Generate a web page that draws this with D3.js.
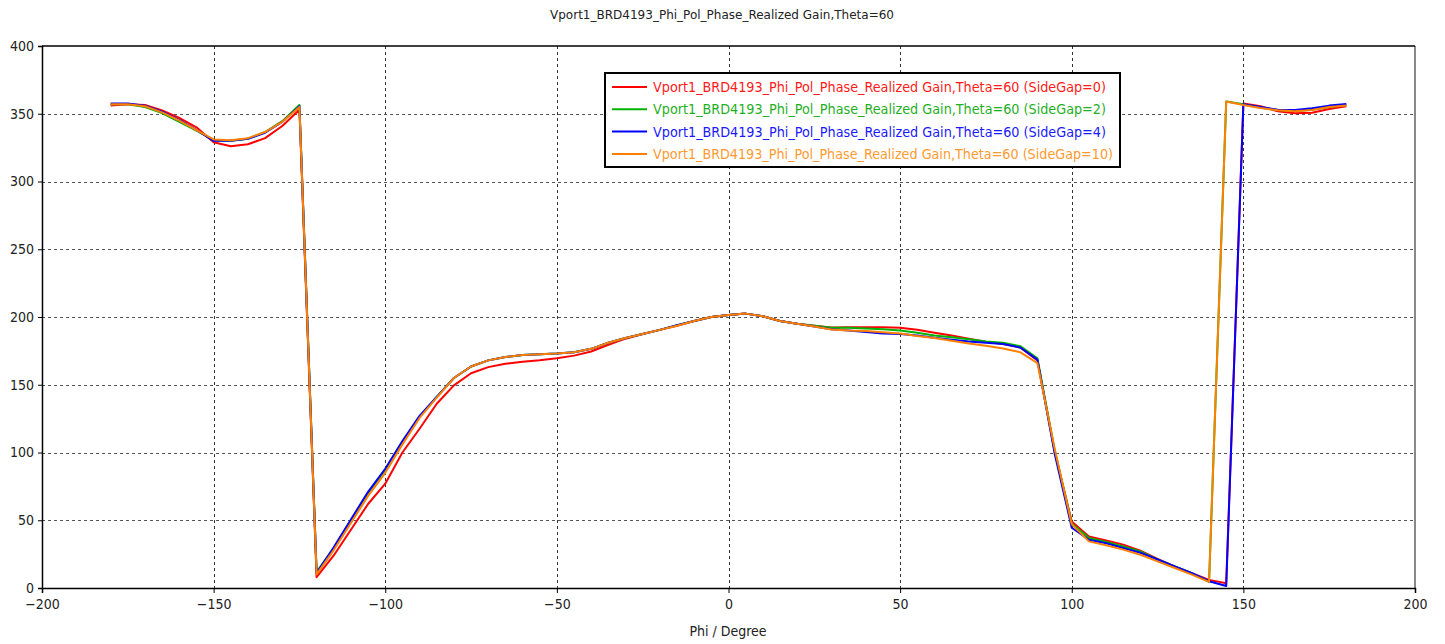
<!DOCTYPE html>
<html>
<head>
<meta charset="utf-8">
<script src="https://cdn.jsdelivr.net/npm/d3@7"></script>
<style>
  html, body { margin: 0; padding: 0; background: #fff; }
  svg { display: block; }
  text { font-family: "DejaVu Sans Condensed", "DejaVu Sans", sans-serif; }
</style>
</head>
<body>
<svg id="chart" width="1445" height="644"></svg>
<script>
const titleText = "Vport1_BRD4193_Phi_Pol_Phase_Realized Gain,Theta=60";
const xAxisTitle = "Phi / Degree";
const xTicks = [-200, -150, -100, -50, 0, 50, 100, 150, 200];
const yTicks = [0, 50, 100, 150, 200, 250, 300, 350, 400];

const phi = [-180,-175,-170,-165,-160,-155,-150,-145,-140,-135,-130,-125,
  -120,-115,-110,-105,-100,-95,-90,-85,-80,-75,-70,-65,-60,-55,-50,-45,-40,-35,-30,-25,-20,-15,-10,-5,0,
  5,10,15,20,25,30,35,40,45,50,55,60,65,70,75,80,85,90,
  95,100,105,110,115,120,125,130,135,140,145,150,155,160,165,170,175,180];

const seriesNames = [
  "Vport1_BRD4193_Phi_Pol_Phase_Realized Gain,Theta=60 (SideGap=0)",
  "Vport1_BRD4193_Phi_Pol_Phase_Realized Gain,Theta=60 (SideGap=2)",
  "Vport1_BRD4193_Phi_Pol_Phase_Realized Gain,Theta=60 (SideGap=4)",
  "Vport1_BRD4193_Phi_Pol_Phase_Realized Gain,Theta=60 (SideGap=10)"
];
const seriesColors = ["#ff0000", "#00b400", "#0000ff", "#ff8000"];
const legendTextColors = ["#ff1a1a", "#1fb01f", "#1a1aff", "#ff9a30"];

const gap0 = [356,357,356.5,352.5,347,340,329,326,327.5,332,341,353,
  8,24,43,62,77,100,117.5,136,149.5,158.5,163,165.5,167,168,169.5,171.5,174.5,179.5,184,187.5,190.5,193.5,197,200,201.5,
  202.5,200.5,197,195,193.5,192.2,192.5,192.5,192.5,192,190.6,188.4,186.4,184,181.8,180,177.5,168,
  101,49,38,35,32,27.5,21.5,16,11,6,3.5,357.5,355.5,351.8,350.3,350.8,353.5,355.5];

const gap2 = [357,357,355,350.5,344,337.5,330.5,330,331.5,336.5,344.5,356.5,
  12,29.5,50,70,87,107.5,126.5,141,155,163.5,168,170.5,172,172.5,173,174,176.5,181,184.5,187.5,190.5,194,197,200,201.5,
  202.5,200.5,197,195,193.5,192,192,191.5,191,190,188.4,186.4,185,183.5,182,181,178.5,169.5,
  102,47.5,36.9,34,30.7,27,21,16,11,4.5,359,357,354.5,352.7,352,353,355,356.5];

const gap4 = [357.5,357.5,356,351.5,345.5,338,330,330,331.5,336,344,355.5,
  11,30,50.5,71,88,108.5,127,141,155,163.5,168,170.5,172,172.5,173,174,176.5,181,184.5,187.5,190.5,194,197,200,201.5,
  202.5,200.5,197,195,193,191,190,189,187.8,187.5,186.4,184.7,183.3,182,181,180,177.5,168.5,
  99.5,44.5,35.6,33,29.5,26,21,16,11,5,1.5,357,355,353,352.8,354,356,357.2];

const gap10 = [357,357,355.5,351,345,338,331,330.5,332,336.5,344,355,
  10,28,48,68,85,106,125.5,140.5,155,163.5,168,170.5,172,172.5,173,174,176.5,181,184.5,187.5,190.5,193.5,197,200,201.5,
  202.5,200.5,197,195,193,190.8,190,189.6,188.8,187.8,186,184.5,182.5,180.5,178.8,176.8,174,166,
  103,47,34.4,31.5,28.3,24.5,19.6,14.8,9.9,4.5,359,356.5,354.3,352.5,351.8,352.8,355,356];

const seriesValues = [gap0, gap2, gap4, gap10];

const svg = d3.select("#chart");
const pL = 42, pR = 1415, pT = 46, pB = 588;
const x = d3.scaleLinear().domain([-200, 200]).range([pL, pR]);
const y = d3.scaleLinear().domain([0, 400]).range([pB, pT]);

// title
svg.append("text")
  .attr("x", 722).attr("y", 19)
  .attr("text-anchor", "middle")
  .attr("font-size", 13)
  .attr("fill", "#222")
  .attr("textLength", 344).attr("lengthAdjust", "spacingAndGlyphs")
  .text(titleText);

// grid
const grid = svg.append("g");
grid.selectAll("line.vg").data(xTicks.filter(d => d > -200 && d < 200)).enter()
  .append("line")
  .attr("x1", d => Math.round(x(d)) + 0.5).attr("x2", d => Math.round(x(d)) + 0.5)
  .attr("y1", pT).attr("y2", pB)
  .attr("stroke", "#333").attr("stroke-width", 1).attr("stroke-dasharray", "3,3");
grid.selectAll("line.hg").data(yTicks.filter(d => d > 0 && d < 400)).enter()
  .append("line")
  .attr("x1", pL).attr("x2", pR)
  .attr("y1", d => Math.round(y(d)) + 0.5).attr("y2", d => Math.round(y(d)) + 0.5)
  .attr("stroke", "#555").attr("stroke-width", 1).attr("stroke-dasharray", "3,3");

// frame: right gray, top black
svg.append("line").attr("x1", pR).attr("x2", pR).attr("y1", pT).attr("y2", pB)
  .attr("stroke", "#888").attr("stroke-width", 2);
svg.append("line").attr("x1", pL).attr("x2", pR).attr("y1", pT).attr("y2", pT)
  .attr("stroke", "#000").attr("stroke-width", 1.5);

// axes
const xAxis = d3.axisBottom(x).tickValues(xTicks).tickSize(5).tickPadding(6).tickFormat(d3.format("d"));
const gx = svg.append("g").attr("transform", `translate(0,${pB})`).call(xAxis);
gx.select(".domain").attr("stroke", "#000").attr("stroke-width", 1.5);
gx.selectAll(".tick line").attr("stroke", "#000");
gx.selectAll(".tick text").attr("font-size", 14).attr("fill", "#222")
  .attr("font-family", "'DejaVu Sans Condensed','DejaVu Sans',sans-serif");

const yAxis = d3.axisLeft(y).tickValues(yTicks).tickSize(4).tickPadding(4).tickFormat(d3.format("d"));
const gy = svg.append("g").attr("transform", `translate(${pL},0)`).call(yAxis);
gy.select(".domain").attr("stroke", "#000").attr("stroke-width", 1.5);
gy.selectAll(".tick line").attr("stroke", "#000");
gy.selectAll(".tick text").attr("font-size", 14).attr("fill", "#222")
  .attr("font-family", "'DejaVu Sans Condensed','DejaVu Sans',sans-serif");

// axis title
svg.append("text")
  .attr("x", 728).attr("y", 636)
  .attr("text-anchor", "middle")
  .attr("font-size", 14)
  .attr("fill", "#222")
  .text(xAxisTitle);

// lines
const line = d3.line().x((d, i) => x(phi[i])).y(d => y(d));
svg.append("g").selectAll("path").data(seriesValues).enter()
  .append("path")
  .attr("d", d => line(d))
  .attr("fill", "none")
  .attr("stroke", (d, i) => seriesColors[i])
  .attr("stroke-width", 2)
  .attr("stroke-linejoin", "round");

// legend
const lg = svg.append("g");
lg.append("rect").attr("x", 605).attr("y", 73).attr("width", 515).attr("height", 94)
  .attr("fill", "#fff").attr("stroke", "#000").attr("stroke-width", 2);
const rows = lg.selectAll("g.row").data(seriesNames).enter().append("g")
  .attr("transform", (d, i) => `translate(0,${87 + i * 22.3})`);
rows.append("line").attr("x1", 612).attr("x2", 647).attr("y1", 0).attr("y2", 0)
  .attr("stroke", (d, i) => seriesColors[i]).attr("stroke-width", 2);
rows.append("text").attr("x", 653).attr("y", 5)
  .attr("font-size", 14)
  .attr("fill", (d, i) => legendTextColors[i])
  .attr("textLength", (d, i) => i === 3 ? 460 : 453)
  .attr("lengthAdjust", "spacingAndGlyphs")
  .text(d => d);
</script>
</body>
</html>
